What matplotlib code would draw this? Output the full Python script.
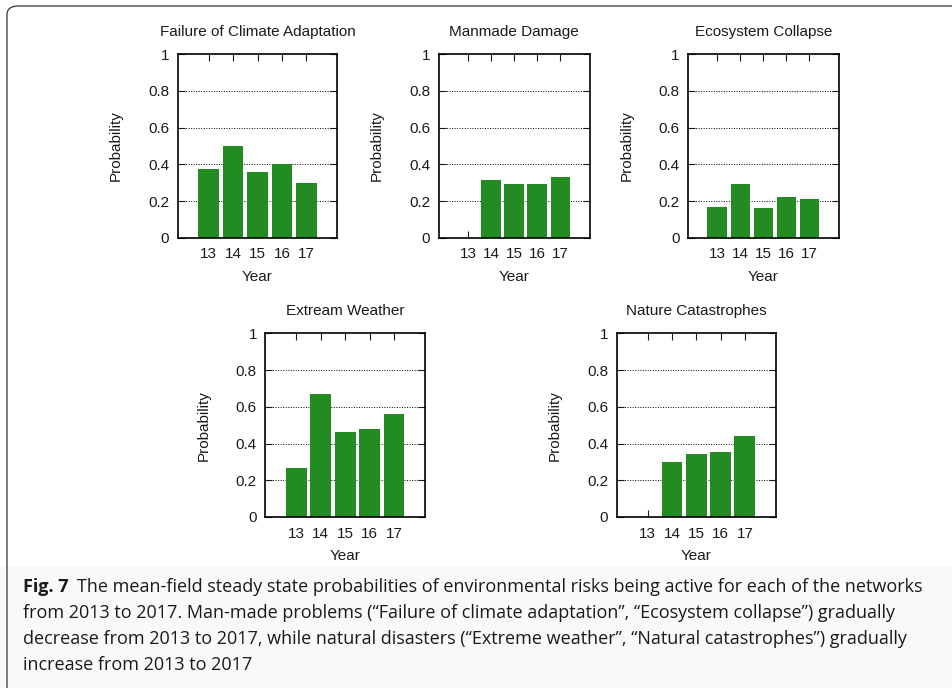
import matplotlib
matplotlib.use("Agg")
import matplotlib.pyplot as plt
from matplotlib.patches import FancyBboxPatch, Rectangle

W, H = 952, 688

years = [13, 14, 15, 16, 17]
year_labels = ["13", "14", "15", "16", "17"]

titles = ["Failure of Climate Adaptation", "Manmade Damage", "Ecosystem Collapse",
          "Extream Weather", "Nature Catastrophes"]

climate_adaptation = [0.375, 0.500, 0.358, 0.402, 0.298]
manmade_damage = [0.0, 0.315, 0.293, 0.293, 0.331]
ecosystem_collapse = [0.167, 0.293, 0.162, 0.222, 0.211]
extreme_weather = [0.267, 0.670, 0.463, 0.479, 0.561]
nature_catastrophes = [0.0, 0.299, 0.343, 0.354, 0.441]

series = [climate_adaptation, manmade_damage, ecosystem_collapse,
          extreme_weather, nature_catastrophes]

y_ticks = [0, 0.2, 0.4, 0.6, 0.8, 1]
y_tick_labels = ["0", "0.2", "0.4", "0.6", "0.8", "1"]

caption_lines = [
    "The mean-field steady state probabilities of environmental risks being active for each of the networks",
    "from 2013 to 2017. Man-made problems (\u201cFailure of climate adaptation\u201d, \u201cEcosystem collapse\u201d) gradually",
    "decrease from 2013 to 2017, while natural disasters (\u201cExtreme weather\u201d, \u201cNatural catastrophes\u201d) gradually",
    "increase from 2013 to 2017",
]

# axes boxes in pixels: left, right, top, bottom
boxes = [
    (177.7, 337.3, 54.3, 237.7),
    (438.7, 589.7, 54.3, 237.7),
    (688.0, 838.7, 54.3, 237.7),
    (265.3, 425.0, 333.3, 517.0),
    (616.7, 775.7, 333.3, 517.0),
]

plt.rcParams['font.family'] = ['Liberation Sans', 'DejaVu Sans']

fig = plt.figure(figsize=(W / 100, H / 100), dpi=100)
fig.patch.set_facecolor("white")

# caption background
fig.patches.append(Rectangle((0, 0), 1, 1 - 566 / H, transform=fig.transFigure,
                             facecolor="#f9f9f9", edgecolor="none", zorder=0))
# outer rounded frame
fig.patches.append(FancyBboxPatch((7 / W, -20 / H), (W + 20 - 7) / W, (H + 20 - 6) / H,
                                  boxstyle="round,pad=0,rounding_size=0.012",
                                  transform=fig.transFigure, facecolor="none",
                                  edgecolor="#333333", linewidth=0.9, zorder=1))

txt_color = "#1a1a1a"
fs = 11
for (l, r, t, b), title, vals in zip(boxes, titles, series):
    ax = fig.add_axes([l / W, 1 - b / H, (r - l) / W, (b - t) / H])
    ax.bar(years, vals, width=0.85, color="#228B22", zorder=2)
    ax.set_xlim(11.73, 18.27)
    ax.set_ylim(0, 1)
    ax.set_yticks(y_ticks)
    ax.set_yticklabels(y_tick_labels)
    ax.set_xticks(years)
    ax.set_xticklabels(year_labels)
    for yv in y_ticks[1:-1]:
        ax.axhline(yv, color="black", linestyle=(0, (1, 1.6)), linewidth=0.7, zorder=1)
    ax.tick_params(axis="both", direction="in", length=5, width=0.8,
                   top=True, right=True, labelsize=fs, colors=txt_color)
    ax.tick_params(axis="y", pad=6)
    ax.tick_params(axis="x", pad=7)
    for s in ax.spines.values():
        s.set_linewidth(1.2)
        s.set_color("black")
    cx = (l + r) / 2
    fig.text(cx / W, 1 - (t - 22) / H, title, ha="center", va="center",
             fontsize=fs, color=txt_color)
    fig.text(cx / W, 1 - (b + 39) / H, "Year", ha="center", va="center",
             fontsize=fs, color=txt_color)
    fig.text((l - 61.5) / W, 1 - ((t + b) / 2) / H, "Probability", ha="center",
             va="center", rotation=90, fontsize=fs, color=txt_color)

cap_font = ['Open Sans', 'DejaVu Sans']
cap_size = 13.0
y0 = 587
dy = 26
fig_lbl = fig.text(23 / W, 1 - y0 / H, "Fig. 7", ha="left", va="center",
                   fontsize=cap_size, fontweight="bold", family=cap_font, color=txt_color)
fig.canvas.draw()
ext = fig_lbl.get_window_extent()
x_after = ext.x1 + 8
fig.text(x_after / W, 1 - y0 / H, caption_lines[0], ha="left", va="center",
         fontsize=cap_size, family=cap_font, color=txt_color)
for i, line in enumerate(caption_lines[1:], start=1):
    fig.text(23 / W, 1 - (y0 + i * dy) / H, line, ha="left", va="center",
             fontsize=cap_size, family=cap_font, color=txt_color)

fig.savefig("out.png", dpi=100)
